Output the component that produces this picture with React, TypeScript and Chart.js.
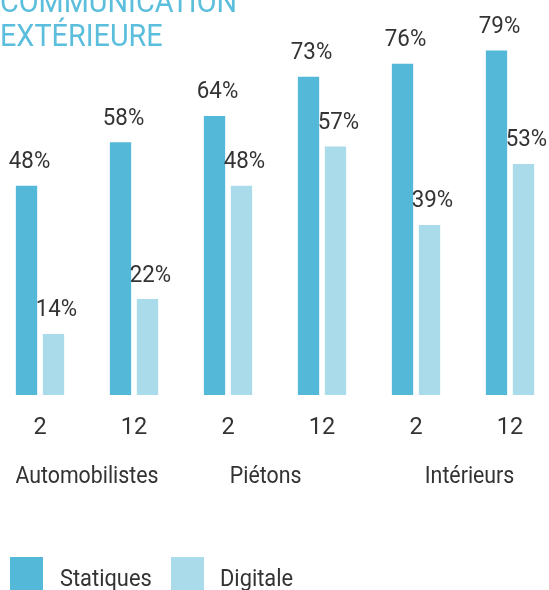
import React, { useEffect, useRef } from "react";
import { Chart, registerables } from "chart.js";

Chart.register(...registerables);

// ---- data ----
const titleLines = ["COMMUNICATION", "EXTÉRIEURE"];
const categories = ["2", "12", "2", "12", "2", "12"];
const groups = ["Automobilistes", "Piétons", "Intérieurs"];
const seriesNames = ["Statiques", "Digitale"];
const statiques = [48, 58, 64, 73, 76, 79];
const digitale = [14, 22, 48, 57, 39, 53];

// ---- style ----
const COLORS = ["#54B9D8", "#AADBEA"];
const TITLE_COLOR = "#5BBEDC";
const TEXT = "#333333";
const FONT = "Roboto, 'Noto Sans', sans-serif";
const GROUP_POS = [0.5, 2.4, 4.57];

function drawText(ctx: CanvasRenderingContext2D, t: string, cx: number, by: number, size: number, sx: number) {
  ctx.save();
  ctx.font = `${size}px ${FONT}`;
  ctx.textAlign = "center";
  ctx.textBaseline = "alphabetic";
  ctx.fillStyle = TEXT;
  ctx.translate(cx, by);
  ctx.scale(sx, 1);
  ctx.fillText(t, 0, 0);
  ctx.restore();
}

const labelsPlugin = {
  id: "customLabels",
  afterDatasetsDraw(chart: any) {
    const ctx = chart.ctx as CanvasRenderingContext2D;
    const xs = chart.scales.x;
    chart.data.datasets.forEach((ds: any, di: number) => {
      const meta = chart.getDatasetMeta(di);
      meta.data.forEach((bar: any, i: number) => {
        drawText(ctx, `${ds.data[i]}%`, bar.x + 3, bar.y - 17.5, 24.5, 0.91);
      });
    });
    categories.forEach((c, i) => drawText(ctx, c, xs.getPixelForValue(i), 434, 23.5, 1));
    groups.forEach((g, gi) => drawText(ctx, g, xs.getPixelForValue(GROUP_POS[gi]), 482.7, 24.5, 0.87));
  },
};

export default function App() {
  const ref = useRef<HTMLCanvasElement | null>(null);

  useEffect(() => {
    if (!ref.current) return;
    const chart = new Chart(ref.current, {
      type: "bar",
      data: {
        labels: categories,
        datasets: [
          {
            label: seriesNames[0],
            data: statiques,
            backgroundColor: COLORS[0],
            borderWidth: 0,
            categoryPercentage: 0.574,
            barPercentage: 0.79,
          },
          {
            label: seriesNames[1],
            data: digitale,
            backgroundColor: COLORS[1],
            borderWidth: 0,
            categoryPercentage: 0.574,
            barPercentage: 0.79,
          },
        ],
      },
      options: {
        responsive: false,
        animation: false,
        devicePixelRatio: 1,
        layout: { padding: { top: 0, left: 0, right: 0, bottom: 195 } },
        plugins: {
          legend: { display: false },
          tooltip: { enabled: false },
          title: { display: false },
        },
        scales: {
          x: { display: false },
          y: { display: false, min: 0, max: 90.6 },
        },
      },
      plugins: [labelsPlugin],
    });
    return () => chart.destroy();
  }, []);

  return (
    <div
      style={{
        position: "fixed",
        left: 0,
        top: 0,
        width: 549,
        height: 590,
        overflow: "hidden",
        background: "#ffffff",
        fontFamily: FONT,
      }}
    >
      <canvas
        ref={ref}
        width={564}
        height={590}
        style={{ position: "absolute", left: -7, top: 0, width: 564, height: 590 }}
      />
      <div
        style={{
          position: "absolute",
          left: 0,
          top: -16,
          fontSize: 32,
          lineHeight: "34px",
          fontWeight: 400,
          color: TITLE_COLOR,
          whiteSpace: "nowrap",
          transform: "scaleX(0.9)",
          transformOrigin: "left top",
        }}
      >
        {titleLines.map((l, i) => (
          <div key={i}>{l}</div>
        ))}
      </div>
      {seriesNames.map((name, i) => (
        <React.Fragment key={name}>
          <div
            style={{
              position: "absolute",
              left: i === 0 ? 10 : 171,
              top: 557,
              width: 33,
              height: 33,
              background: COLORS[i],
            }}
          />
          <div
            style={{
              position: "absolute",
              left: i === 0 ? 60 : 220,
              top: 565.5,
              fontSize: 24,
              lineHeight: "24px",
              color: TEXT,
              whiteSpace: "nowrap",
              transform: "scaleX(0.91)",
              transformOrigin: "left top",
            }}
          >
            {name}
          </div>
        </React.Fragment>
      ))}
    </div>
  );
}
